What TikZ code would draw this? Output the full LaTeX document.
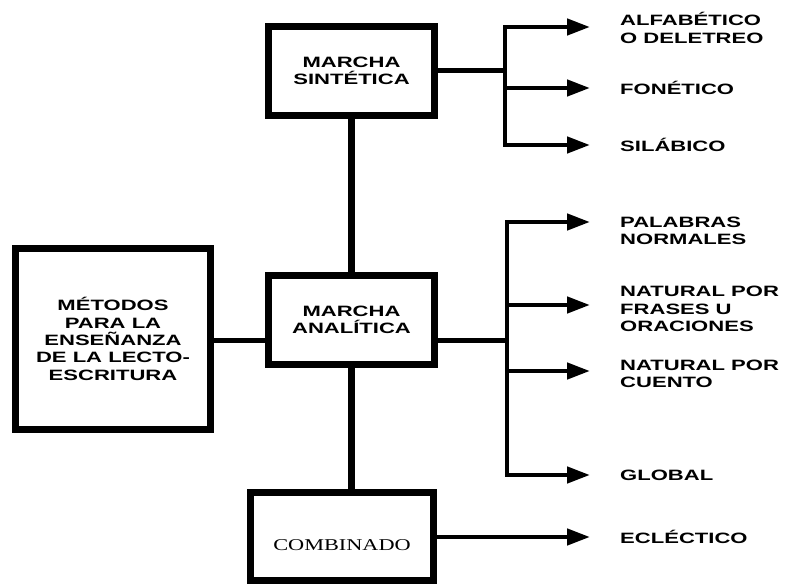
\documentclass[tikz,border=0pt]{standalone}
\usepackage{fontspec}
\setmainfont{Liberation Sans}[FakeStretch=1.47]
\newfontfamily\serifbox{Liberation Serif}[FakeStretch=1.35]
\usetikzlibrary{arrows.meta}
\begin{document}
\begin{tikzpicture}[x=1pt, y=-1pt,
  box/.style={draw, line width=7pt, align=center, font=\bfseries\fontsize{15}{17.3}\selectfont},
  lbl/.style={anchor=west, inner sep=0pt, align=left, font=\bfseries\fontsize{15}{17.3}\selectfont},
  link/.style={line width=5pt},
  arr/.style={line width=4.5pt, -{Triangle[length=23pt, width=16pt]}}]
\useasboundingbox (0,0) rectangle (788,585);
\node[box, minimum width=195pt, minimum height=181pt] (met) at (113,339) {MÉTODOS\\PARA LA\\ENSEÑANZA\\DE LA LECTO-\\ESCRITURA};
\node[box, minimum width=166pt, minimum height=89pt] (sin) at (351.5,71) {MARCHA\\SINTÉTICA};
\node[box, minimum width=166pt, minimum height=89pt] (ana) at (351.5,320) {MARCHA\\ANALÍTICA};
\node[box, minimum width=183pt, minimum height=88pt, font=\serifbox\fontsize{16.5}{18}\selectfont, text height=28pt, text depth=0pt] (com) at (342,536.5) {COMBINADO};
\coordinate (j1) at (505,71);
\coordinate (j2) at (507,341);
\coordinate (a1) at (590,27);
\coordinate (a2) at (590,88);
\coordinate (a3) at (590,145);
\coordinate (a4) at (590,222);
\coordinate (a5) at (590,305);
\coordinate (a6) at (590,371);
\coordinate (a7) at (590,475);
\coordinate (a8) at (590,537);
\node[lbl] (alf) at (620,28) {ALFABÉTICO\\O DELETREO};
\node[lbl] (fon) at (620,88) {FONÉTICO};
\node[lbl] (sil) at (620,145) {SILÁBICO};
\node[lbl] (pal) at (620,231) {PALABRAS\\NORMALES};
\node[lbl] (fra) at (620,309) {NATURAL POR\\FRASES U\\ORACIONES};
\node[lbl] (cue) at (620,374) {NATURAL POR\\CUENTO};
\node[lbl] (glo) at (620,475) {GLOBAL};
\node[lbl] (ecl) at (620,537) {ECLÉCTICO};
\draw[line width=7pt] (sin) -- (ana);
\draw[line width=7pt] (ana.south) -- (ana.south |- com.north);
\draw[link] (met.east |- j2) -- (ana.west |- j2);
\draw[link] (sin.east) -- (j1);
\draw[link] (ana.east |- j2) -- (j2);
\draw[arr] (j1) |- (a1);
\draw[arr] (j1) |- (a3);
\draw[arr] (j1 |- a2) -- (a2);
\draw[arr] (j2) |- (a4);
\draw[arr] (j2) |- (a7);
\draw[arr] (j2 |- a5) -- (a5);
\draw[arr] (j2 |- a6) -- (a6);
\draw[arr] (com.east |- a8) -- (a8);
\end{tikzpicture}
\end{document}
